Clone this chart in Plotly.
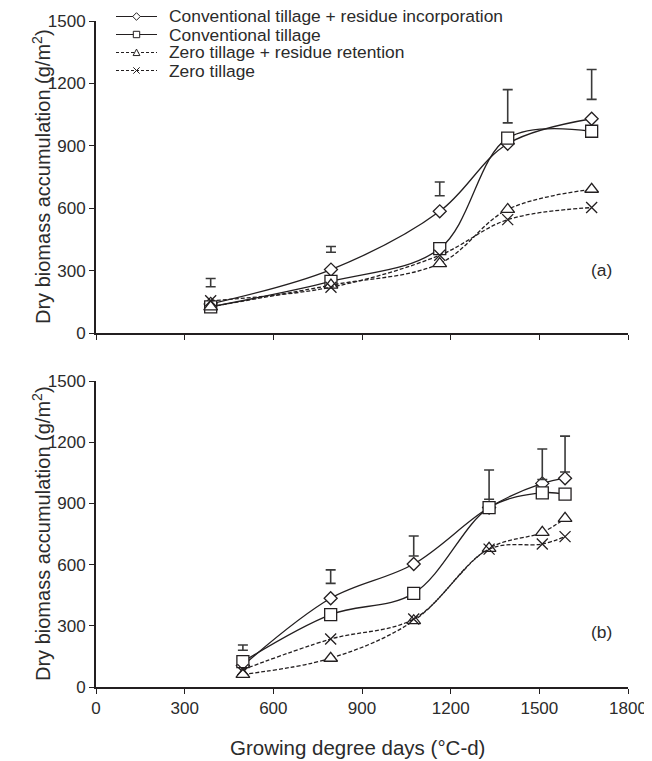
import plotly.graph_objects as go
from plotly.subplots import make_subplots

series_names = [
    "Conventional tillage + residue incorporation",
    "Conventional tillage",
    "Zero tillage + residue retention",
    "Zero tillage",
]

# Panel (a)
gdd_a = [388, 795, 1163, 1393, 1677]
ctri_a = [140, 305, 585, 910, 1030]
ct_a = [126, 248, 406, 937, 970]
ztrr_a = [126, 230, 334, 594, 691]
zt_a = [155, 220, 374, 545, 603]
lsd_mid_a = [242, 402, 693, 1090, 1195]
lsd_half_a = [20, 14, 33, 80, 72]

# Panel (b)
gdd_b = [497, 794, 1075, 1330, 1510, 1587]
ctri_b = [105, 435, 603, 880, 998, 1023]
ct_b = [124, 355, 459, 879, 952, 945]
ztrr_b = [62, 141, 325, 680, 758, 827]
zt_b = [85, 235, 333, 676, 701, 737]
lsd_mid_b = [193, 541, 691, 992, 1092, 1142]
lsd_half_b = [13, 33, 49, 72, 75, 88]

x_ticks = [0, 300, 600, 900, 1200, 1500, 1800]
y_ticks = [0, 300, 600, 900, 1200, 1500]

FONT = "Liberation Sans, Arial, Helvetica, sans-serif"
INK = "#231f20"
TXT = "#2b2b2b"
FS_TICK = 17
FS_YTITLE = 20
FS_XTITLE = 20.5
FS_LEG = 17.4

styles = [
    dict(symbol="diamond", size=10, dash=False),
    dict(symbol="square", size=12, dash=False),
    dict(symbol="triangle-up", size=12, dash=True),
    dict(symbol="x-thin-open", size=11, dash=True),
]


def marker_style(st):
    if st["symbol"].endswith("-open"):
        return dict(symbol=st["symbol"], size=st["size"], color=INK,
                    line=dict(color=INK, width=1.3))
    return dict(symbol=st["symbol"], size=st["size"], color="white",
                line=dict(color=INK, width=1.3))


fig = make_subplots(rows=2, cols=1, vertical_spacing=0.0)

panels = [
    (1, gdd_a, [ctri_a, ct_a, ztrr_a, zt_a], lsd_mid_a, lsd_half_a),
    (2, gdd_b, [ctri_b, ct_b, ztrr_b, zt_b], lsd_mid_b, lsd_half_b),
]

for row, xs, ys_list, mids, halves in panels:
    for i, (name, ys) in enumerate(zip(series_names, ys_list)):
        st = styles[i]
        fig.add_trace(
            go.Scatter(
                x=xs, y=ys, name=name, mode="lines+markers",
                line=dict(color=INK, width=1.3, dash="4px,2px" if st["dash"] else "solid",
                          shape="spline", smoothing=1.0),
                marker=marker_style(st),
                showlegend=False,
            ),
            row=row, col=1,
        )
    fig.add_trace(
        go.Scatter(
            x=xs, y=mids, mode="markers",
            marker=dict(size=1, color="rgba(0,0,0,0)"),
            error_y=dict(type="data", array=halves, visible=True, color="#3a3a3a",
                         thickness=1.6, width=5),
            showlegend=False, hoverinfo="skip",
        ),
        row=row, col=1,
    )

# ---- layout geometry, in page pixels (the page body adds an 8px offset) ----
OFF = 8
PAGE_W, PAGE_H = 652, 761
FIG_W, FIG_H = PAGE_W - OFF, PAGE_H - OFF
L, R, T, B = 96, 628, 21, 687           # plot area in page pixels
TOP_PANEL = (21, 333)
BOT_PANEL = (381, 687)
legend_rows_px = [16.5, 34.5, 52.5, 70.5]
legend_line_px = (116, 157)
legend_text_px = 167


def pxx(px):
    return (px - L) / (R - L)


def pxy(py):
    return (B - py) / (B - T)


shapes = []
annotations = []
mshapes = []
cx = (legend_line_px[0] + legend_line_px[1]) / 2
mline = dict(color=INK, width=1)
for i, name in enumerate(series_names):
    st = styles[i]
    cy = legend_rows_px[i]
    shapes.append(dict(
        type="line", xref="paper", yref="paper",
        x0=pxx(legend_line_px[0]), x1=pxx(legend_line_px[1]),
        y0=pxy(cy), y1=pxy(cy), layer="above",
        line=dict(color=INK, width=1.1, dash="3px,2px" if st["dash"] else "solid"),
    ))
    annotations.append(dict(
        text=name, xref="paper", yref="paper", x=pxx(legend_text_px), y=pxy(cy),
        xanchor="left", yanchor="middle", showarrow=False,
        font=dict(family=FONT, size=FS_LEG, color=TXT),
    ))
    if i == 0:
        h = 3.8
        path = (f"M {pxx(cx)},{pxy(cy - h)} L {pxx(cx + h)},{pxy(cy)} "
                f"L {pxx(cx)},{pxy(cy + h)} L {pxx(cx - h)},{pxy(cy)} Z")
        mshapes.append(dict(type="path", path=path, xref="paper", yref="paper",
                            fillcolor="white", line=mline, layer="above"))
    elif i == 1:
        h = 3.2
        mshapes.append(dict(type="rect", xref="paper", yref="paper",
                            x0=pxx(cx - h), x1=pxx(cx + h), y0=pxy(cy + h), y1=pxy(cy - h),
                            fillcolor="white", line=mline, layer="above"))
    elif i == 2:
        h = 3.4
        path = (f"M {pxx(cx)},{pxy(cy - h)} L {pxx(cx + h)},{pxy(cy + h * 0.9)} "
                f"L {pxx(cx - h)},{pxy(cy + h * 0.9)} Z")
        mshapes.append(dict(type="path", path=path, xref="paper", yref="paper",
                            fillcolor="white", line=mline, layer="above"))
    else:
        h = 3.2
        for sgn in (1, -1):
            mshapes.append(dict(type="line", xref="paper", yref="paper",
                                x0=pxx(cx - h), x1=pxx(cx + h),
                                y0=pxy(cy - sgn * h), y1=pxy(cy + sgn * h),
                                line=mline, layer="above"))
shapes += mshapes

ytitle = "Dry biomass accumulation (g/m<sup>2</sup>)"
for (p0, p1) in (TOP_PANEL, BOT_PANEL):
    annotations.append(dict(
        text=ytitle, textangle=-90, xref="paper", yref="paper",
        x=pxx(41), y=pxy((p0 + p1) / 2), xanchor="center", yanchor="middle",
        showarrow=False, font=dict(family=FONT, size=FS_YTITLE, color=TXT),
    ))
annotations.append(dict(
    text="Growing degree days (°C-d)", xref="paper", yref="paper",
    x=pxx(357), y=pxy(747), xanchor="center", yanchor="middle", showarrow=False,
    font=dict(family=FONT, size=FS_XTITLE, color=TXT),
))

annotations += [
    dict(text="(a)", x=1712, y=302, xref="x", yref="y", showarrow=False,
         font=dict(family=FONT, size=FS_LEG, color=TXT)),
    dict(text="(b)", x=1712, y=270, xref="x2", yref="y2", showarrow=False,
         font=dict(family=FONT, size=FS_LEG, color=TXT)),
]

axis_common = dict(
    showline=True, linecolor=INK, linewidth=2, ticks="outside", ticklen=5,
    tickcolor=INK, tickwidth=1, showgrid=False, zeroline=False, automargin=False,
    tickfont=dict(family=FONT, size=FS_TICK, color=TXT),
)

fig.update_xaxes(range=[0, 1800], tickvals=x_ticks, **axis_common)
fig.update_xaxes(showticklabels=False, row=1, col=1)
fig.update_yaxes(range=[0, 1500], tickvals=y_ticks, **axis_common)

fig.update_layout(
    width=FIG_W, height=FIG_H,
    margin=dict(l=L - OFF, r=PAGE_W - R, t=T - OFF, b=PAGE_H - B, autoexpand=False),
    paper_bgcolor="white", plot_bgcolor="white",
    font=dict(family=FONT, size=FS_TICK, color=TXT),
    showlegend=False,
    xaxis=dict(domain=[0, 1], anchor="y"),
    yaxis=dict(domain=[pxy(TOP_PANEL[1]), pxy(TOP_PANEL[0])]),
    xaxis2=dict(domain=[0, 1], anchor="y2"),
    yaxis2=dict(domain=[pxy(BOT_PANEL[1]), pxy(BOT_PANEL[0])]),
    shapes=shapes,
    annotations=annotations,
)

fig.write_html("out.html")
